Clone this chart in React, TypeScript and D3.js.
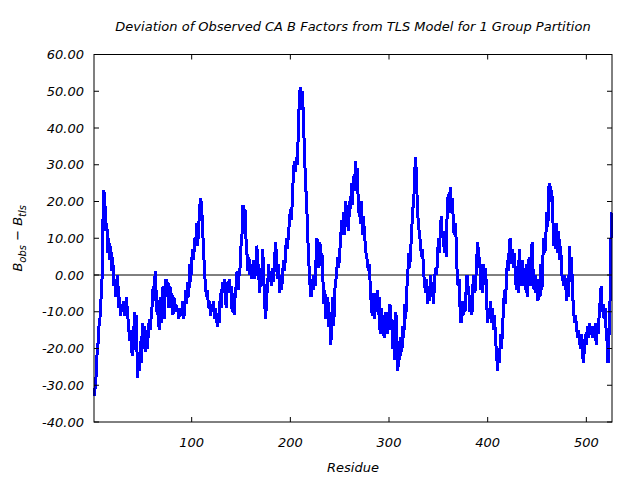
import React from 'react';
import * as d3 from 'd3';

// B_obs - B_tls for residues 1..526 (ten residues per row)
const deviation: number[] = [
  -33, -31, -28, -22, -19, -14, -12, -7, -3, 14,
  23, 20, 12, 14, 6, 10, 4, 8, 1, 5,
  -3, -1, -6, -2, 0, -9, -6, -11, -8, -10,
  -7, -11, -9, -6, -11, -13, -18, -15, -20, -22,
  -19, -10, -19, -11, -28, -22, -26, -18, -24, -13,
  -20, -14, -21, -15, -20, -16, -12, -15, -11, -8,
  -3, -7, 1, -5, -11, -7, -15, -6, -13, -8,
  -3, -12, -5, -1, -6, -2, -9, -3, -8, -5,
  -11, -6, -9, -8, -10, -9, -12, -9, -11, -10,
  -7, -12, -8, -4, -8, -2, -6, 3, -2, 4,
  7, 4, 10, 8, 14, 8, 12, 18, 21, 19,
  13, 7, 1, -3, -6, -4, -9, -7, -11, -8,
  -10, -7, -12, -9, -11, -14, -12, -13, -5, -9,
  -2, -5, -1, -4, -9, -2, -5, -1, -4, -3,
  -10, -5, -11, -6, -3, 1, -4, 0, 2, 8,
  11, 19, 14, 18, 10, 6, 1, 5, 0, 3,
  -1, 2, 4, -1, 3, 8, 4, 0, -5, 2,
  -3, 7, 0, -8, -12, -6, -3, 3, -2, 1,
  -3, 2, -2, 4, 9, 5, -1, 3, -5, 0,
  -4, -1, 4, 1, 5, 10, 7, 11, 14, 18,
  15, 20, 27, 31, 28, 32, 30, 38, 47, 51,
  45, 50, 45, 36, 28, 22, 16, 8, 2, -3,
  -6, -1, -4, 0, -3, 4, 10, 6, 2, 9,
  3, 6, -1, -8, -4, -12, -9, -6, -14, -10,
  -19, -12, -6, -14, -4, -2, 1, 5, 2, 6,
  10, 15, 11, 17, 11, 20, 13, 19, 12, 20,
  18, 25, 19, 27, 23, 31, 26, 29, 17, 19,
  14, 20, 11, 16, 12, 8, 5, 4, 1, 3,
  -3, -8, -11, -5, -12, -6, -9, -4, -11, -6,
  -16, -9, -14, -11, -17, -12, -10, -16, -11, -15,
  -8, -15, -12, -20, -14, -23, -10, -20, -26, -18,
  -23, -17, -21, -14, -17, -8, -12, -4, 0, 6,
  2, 7, 12, 18, 19, 28, 32, 25, 17, 13,
  11, 8, 5, 7, 1, -2, -5, -1, -8, -3,
  -7, 0, -6, -2, -8, -3, 2, 0, 3, 10,
  6, 12, 16, 10, 12, 6, 9, 5, 18, 22,
  17, 24, 17, 21, 16, 11, 14, 10, 1, -3,
  -1, -9, -13, -7, -11, -8, -10, -5, 0, -3,
  -5, -10, -6, -11, -3, 0, -5, -1, 5, 9,
  2, 5, -4, 1, -5, 3, -2, 2, -8, -13,
  -9, -12, -7, -13, -9, -15, -11, -18, -21, -26,
  -20, -24, -16, -20, -15, -9, -4, -8, -1, 4,
  1, 9, 10, 3, 7, 2, 6, 1, -4, 2,
  -5, 7, 0, -3, 4, -3, 2, -4, 3, -6,
  -1, 5, -3, 2, 9, 1, -4, 0, -5, -1,
  -7, -2, -6, 3, -4, 5, 10, 6, 11, 17,
  13, 24, 25, 20, 23, 16, 8, 12, 7, 14,
  6, 12, 4, 8, 0, -1, -3, 0, -2, -7,
  -3, -6, 8, -2, 5, -5, -9, -13, -11, -14,
  -17, -15, -18, -20, -16, -21, -24, -20, -16, -19,
  -14, -17, -13, -16, -14, -17, -15, -17, -13, -19,
  -15, -16, -11, -7, -3, -10, -8, -12, -9, -15,
  -18, -24, -16, -7, 10, 17,
];
const residues: number[] = deviation.map((_, i) => i + 1);

const xTicks: number[] = [100, 200, 300, 400, 500];
const yTicks: number[] = [-40, -30, -20, -10, 0, 10, 20, 30, 40, 50, 60];

const titleText = 'Deviation of Observed CA B Factors from TLS Model for 1 Group Partition';
const xLabel = 'Residue';

const W = 640;
const H = 480;
const plot = { left: 94, right: 612, top: 54.5, bottom: 422 };
const font = '"DejaVu Sans", sans-serif';

export default function App() {
  const x = d3.scaleLinear().domain([1, 526]).range([plot.left, plot.right]);
  const y = d3.scaleLinear().domain([-40, 60]).range([plot.bottom, plot.top]);

  const line = d3.line<number>()
    .x((_, i) => x(residues[i]))
    .y(d => y(d));

  const tickLen = 5;
  const cx = (plot.left + plot.right) / 2;
  const cy = (plot.top + plot.bottom) / 2;

  return (
    <svg
      width={W}
      height={H}
      style={{ position: 'absolute', left: 0, top: 0, background: '#fff' }}
      fontFamily={font}
      fontStyle="italic"
    >
      <rect x={0} y={0} width={W} height={H} fill="#fff" />

      <text x={cx} y={31} textAnchor="middle" fontSize={13}>{titleText}</text>

      {/* zero line */}
      <line x1={plot.left} x2={plot.right} y1={y(0)} y2={y(0)} stroke="#000" strokeWidth={1} />

      <path
        d={line(deviation) ?? ''}
        fill="none"
        stroke="#0000ff"
        strokeWidth={3}
        strokeLinejoin="bevel"
        shapeRendering="crispEdges"
      />

      {/* frame */}
      <rect
        x={plot.left}
        y={plot.top}
        width={plot.right - plot.left}
        height={plot.bottom - plot.top}
        fill="none"
        stroke="#000"
        strokeWidth={1}
      />

      {yTicks.map(t => (
        <g key={'y' + t}>
          <line x1={plot.left} x2={plot.left + tickLen} y1={y(t)} y2={y(t)} stroke="#000" />
          <line x1={plot.right} x2={plot.right - tickLen} y1={y(t)} y2={y(t)} stroke="#000" />
          <text x={84} y={y(t)} dy="0.36em" textAnchor="end" fontSize={13}>
            {t.toFixed(2)}
          </text>
        </g>
      ))}

      {xTicks.map(t => (
        <g key={'x' + t}>
          <line x1={x(t)} x2={x(t)} y1={plot.bottom} y2={plot.bottom - tickLen} stroke="#000" />
          <line x1={x(t)} x2={x(t)} y1={plot.top} y2={plot.top + tickLen} stroke="#000" />
          <text x={x(t)} y={447} textAnchor="middle" fontSize={13}>{t}</text>
        </g>
      ))}

      <text x={cx} y={472} textAnchor="middle" fontSize={13}>{xLabel}</text>

      <text transform={`translate(22,${cy}) rotate(-90)`} textAnchor="middle" fontSize={13}>
        <tspan>B</tspan>
        <tspan fontSize={10} dy={4}>obs</tspan>
        <tspan dy={-4}> − B</tspan>
        <tspan fontSize={10} dy={4}>tls</tspan>
      </text>
    </svg>
  );
}
